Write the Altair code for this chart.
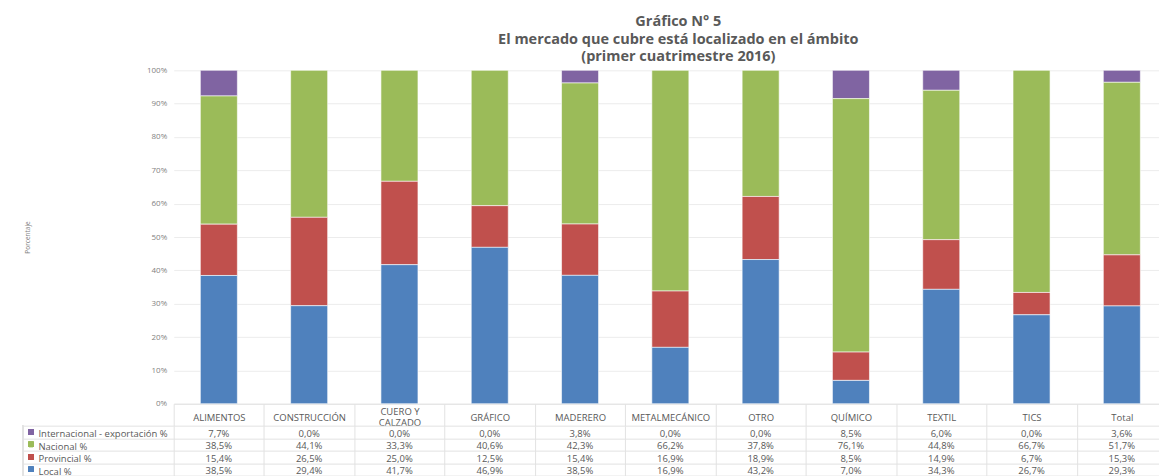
import altair as alt
import pandas as pd

categories = ["ALIMENTOS", "CONSTRUCCIÓN", "CUERO Y CALZADO", "GRÁFICO", "MADERERO",
              "METALMECÁNICO", "OTRO", "QUÍMICO", "TEXTIL", "TICS", "Total"]
series = ["Internacional - exportación %", "Nacional %", "Provincial %", "Local %"]
internacional = [7.7, 0.0, 0.0, 0.0, 3.8, 0.0, 0.0, 8.5, 6.0, 0.0, 3.6]
nacional = [38.5, 44.1, 33.3, 40.6, 42.3, 66.2, 37.8, 76.1, 44.8, 66.7, 51.7]
provincial = [15.4, 26.5, 25.0, 12.5, 15.4, 16.9, 18.9, 8.5, 14.9, 6.7, 15.3]
local = [38.5, 29.4, 41.7, 46.9, 38.5, 16.9, 43.2, 7.0, 34.3, 26.7, 29.3]
colors = ["#8064A2", "#9BBB59", "#C0504D", "#4F81BD"]

rows = []
for s, vals, order in zip(series, [internacional, nacional, provincial, local], [3, 2, 1, 0]):
    for c, v in zip(categories, vals):
        rows.append({"cat": c, "serie": s, "valor": v, "orden": order,
                     "texto": f"{v:.1f}%".replace(".", ",")})
df = pd.DataFrame(rows)

FONT = "Open Sans"
GRAY = "#595959"
LINE = "#e2e2e2"
W = 995
TFS = 9.5

xscale = alt.Scale(domain=categories, paddingInner=0, paddingOuter=0)
cscale = alt.Scale(domain=series, range=colors)

bars = alt.Chart(df).mark_bar(width={"band": 0.41}, stroke="white", strokeWidth=0.6).encode(
    x=alt.X("cat:N", sort=categories, scale=xscale,
            axis=alt.Axis(title=None, orient="bottom", labelAngle=0, labelFont=FONT,
                          labelFontSize=TFS, labelColor=GRAY, labelBaseline="middle",
                          labelPadding={"condition": {"test": "datum.value == 'CUERO Y CALZADO'",
                                                      "value": -14}, "value": -8},
                          labelLineHeight=11,
                          labelLimit=200, tickBand="extent", tickSize=22,
                          tickColor=LINE, domainColor=LINE, grid=False,
                          labelExpr="datum.label == 'CUERO Y CALZADO' ? ['CUERO Y', 'CALZADO'] : datum.label")),
    y=alt.Y("valor:Q", stack="normalize",
            scale=alt.Scale(domain=[0, 1]),
            axis=alt.Axis(title="Porcentaje", format=".0%", values=[i / 10 for i in range(11)],
                          labelFont=FONT, labelFontSize=8, labelColor="#7f7f7f",
                          labelPadding=7, ticks=False, domain=False, gridColor="#ececec",
                          titleFont=FONT, titleFontSize=6.5, titleFontWeight="normal",
                          titleColor="#7f7f7f", titleX=-143, titleY=167, titleAngle=270)),
    color=alt.Color("serie:N", scale=cscale, legend=None),
    order=alt.Order("orden:Q"),
).properties(
    width=W, height=334,
    title=alt.TitleParams(
        text=["Gráfico N° 5", "El mercado que cubre está localizado en el ámbito",
              "(primer cuatrimestre 2016)"],
        font=FONT, fontSize=14.5, fontWeight="bold", color=GRAY, lineHeight=17.5,
        anchor="middle", frame="group", dx=8, offset=1.5),
)

base = alt.Chart(df)
ytab = alt.Y("serie:N", sort=series, scale=alt.Scale(domain=series, paddingInner=0, paddingOuter=0),
             axis=alt.Axis(title=None, labelAlign="left", labelPadding=-15, labelFont=FONT,
                           labelFontSize=TFS, labelColor=GRAY, labelBaseline="middle",
                           labelOffset=2,
                           tickBand="extent", tickSize=151, tickColor=LINE, domain=False,
                           grid=True, gridColor=LINE, labelLimit=200))
xtab = alt.X("cat:N", sort=categories, scale=xscale,
             axis=alt.Axis(title=None, labels=False, ticks=False, domain=False, grid=True,
                           tickBand="extent", gridColor=LINE))

texts = base.mark_text(font=FONT, fontSize=TFS, color=GRAY, baseline="middle", dy=2).encode(
    x=xtab, y=ytab, text="texto:N")
squares = base.mark_square(size=28, opacity=1).encode(
    x=alt.value(-143), y=ytab, color=alt.Color("serie:N", scale=cscale, legend=None))
border = base.mark_rule(color=LINE).encode(
    x=alt.value(-151), y=alt.value(0), y2=alt.value(50))

table = alt.layer(texts, squares, border).properties(width=W, height=50)

chart = alt.vconcat(bars, table, spacing=22, bounds="flush").properties(
    padding={"left": 14, "top": 6, "right": -9, "bottom": 0}
).configure_view(stroke=None)

chart.save("out.html", embed_options={"renderer": "svg", "actions": False})
